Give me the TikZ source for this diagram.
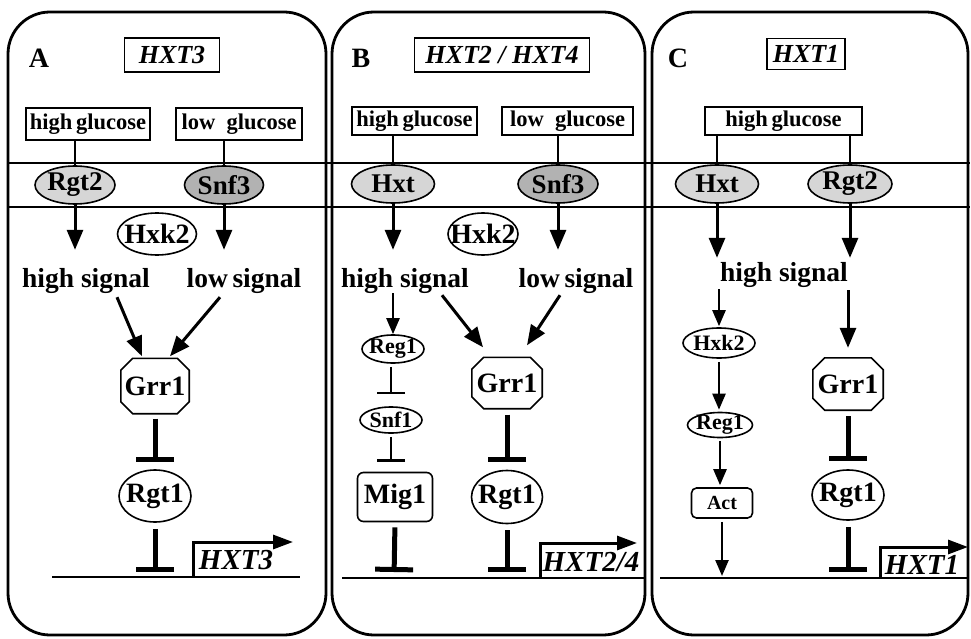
\documentclass[tikz,border=0pt]{standalone}
\usepackage{fontspec}
\setmainfont{Liberation Serif}
\usetikzlibrary{arrows.meta,shapes.geometric,calc}
\newcommand\fsz[1]{\fontsize{#1}{#1}\selectfont}
\newcommand\octdraw[1]{\draw[line width=1.6pt] ([xshift=12pt]#1.north west) -- ([xshift=-12pt]#1.north east) -- ([yshift=-12pt]#1.north east) -- ([yshift=12pt]#1.south east) -- ([xshift=-12pt]#1.south east) -- ([xshift=12pt]#1.south west) -- ([yshift=12pt]#1.south west) -- ([yshift=-12pt]#1.north west) -- cycle;}
\begin{document}
\begin{tikzpicture}[x=1pt,y=-1pt,
 panel/.style={draw, line width=2.8pt, rounded corners=42pt},
 lab/.style={font=\fsz{28}\bfseries, inner sep=0},
 genebox/.style={draw, line width=1.5pt, font=\fsz{26}\bfseries\itshape, inner sep=0, minimum height=34pt},
 gluc/.style={draw, line width=1.5pt, font=\fsz{22.5}\bfseries, inner sep=0, minimum height=30pt},
 recep/.style={ellipse, draw, line width=1.6pt, minimum height=38pt, inner xsep=-12pt, inner ysep=-8pt, font=\fsz{27}\bfseries},
 lite/.style={fill=gray!32},
 dark/.style={fill=gray!60},
 oval/.style={ellipse, draw, line width=1.6pt, inner xsep=-12pt, inner ysep=-8pt, font=\fsz{28}\bfseries},
 small/.style={ellipse, draw, line width=1.6pt, inner xsep=-10pt, inner ysep=-6pt, font=\fsz{22}\bfseries},
 signal/.style={font=\fsz{27.5}\bfseries, inner sep=0, anchor=base, text height=19pt, text depth=6pt},
 genetext/.style={font=\fsz{29}\bfseries\itshape, inner sep=0},
 octo/.style={inner sep=0, font=\fsz{28}\bfseries},
 big/.style={line width=3pt, -{Triangle[length=20pt,width=16pt]}},
 sm/.style={line width=2.4pt, -{Triangle[length=16pt,width=13pt]}},
 inh/.style={line width=5pt, -{Bar[width=38pt]}},
 inhs/.style={line width=2.5pt, -{Bar[width=28pt]}},
 stick/.style={line width=2.4pt},
 mem/.style={line width=2pt},
 dna/.style={line width=2.5pt},
 prom/.style={line width=3pt, -{Triangle[length=20pt,width=14pt]}},
 mig/.style={draw, line width=1.6pt, rounded corners=6pt, inner sep=0},
]
\useasboundingbox (0,0) rectangle (971,639);
% panels
\draw[panel] (8,12) rectangle (326,635);
\draw[panel] (332,12) rectangle (645,635);
\draw[panel] (652,12) rectangle (968,635);
% membrane
\draw[mem] (8,163) -- (970,163);
\draw[mem] (8,207) -- (970,207);
% DNA
\draw[dna] (52,577) -- (300,577);
\draw[dna] (342,578) -- (645,578);
\draw[dna] (660,578) -- (968,578);

% ---------------- Panel A
\node[lab] (lA) at (39,58) {A};
\node[genebox, minimum width=95pt] (tA) at (172,55) {HXT3};
\node[gluc, minimum width=124pt, minimum height=32pt] (hgA) at (88,124) {high\,glucose};
\node[gluc, minimum width=126pt, minimum height=32pt] (lgA) at (239,124) {low\enspace glucose};
\node[recep, lite, minimum width=80pt] (rA) at (75,185) {Rgt2};
\node[recep, dark, minimum width=79pt] (sA) at (224,185) {Snf3};
\node[oval, minimum width=79pt, minimum height=42pt] (kA) at (157,234) {Hxk2};
\node[signal] (hsA) at (86,287) {high signal};
\node[signal] (lsA) at (244,287) {low\,signal};
\node[octo, minimum width=68pt, minimum height=55pt] (gA) at (155,386) {Grr1};
\octdraw{gA}
\node[oval, minimum width=72pt, minimum height=52pt] (tA1) at (155,496) {Rgt1};
\coordinate (dA) at (155,577);
\coordinate (pA) at (193,577);
\coordinate (pA2) at (193,542);
\coordinate (eA) at (293,542);
\node[genetext] (xA) at (236,560) {HXT3};

\draw[stick] (hgA.south -| rA) -- (rA.north);
\draw[stick] (lgA.south -| sA) -- (sA.north);
\draw[big, shorten >=18pt] (rA.south) -- (rA.south |- hsA.north);
\draw[big, shorten >=18pt] (sA.south) -- (sA.south |- lsA.north);
\draw[big] ($(hsA.south)+(31,4)$) -- ($(gA.north)+(-13,-2)$);
\draw[big] ($(lsA.south)+(-24,4)$) -- ($(gA.north)+(15,-2)$);
\draw[inh, shorten <=5pt, shorten >=7pt] (gA.south) -- (tA1.north);
\draw[inh, shorten <=6pt, shorten >=5pt] (tA1.south) -- (dA);
\draw[prom] (pA) -- (pA2) -- (eA);

% ---------------- Panel B
\node[lab] (lB) at (361,58) {B};
\node[genebox, minimum width=175pt] (tB) at (502,55) {HXT2 / HXT4};
\node[gluc, minimum width=125pt, minimum height=28pt] (hgB) at (414.5,121) {high\,glucose};
\node[gluc, minimum width=131pt, minimum height=28pt] (lgB) at (567.5,121) {low\enspace glucose};
\node[recep, lite, minimum width=83pt] (rB) at (393,184) {Hxt};
\node[recep, dark, minimum width=80pt] (sB) at (558,184) {Snf3};
\node[oval, minimum width=70pt, minimum height=42pt] (kB) at (483,234) {Hxk2};
\node[signal] (hsB) at (405,287) {high signal};
\node[signal] (lsB) at (576,287) {low\,signal};
\node[small, minimum width=62pt, minimum height=28pt] (reB) at (393,349) {Reg1};
\node[small, minimum width=62pt, minimum height=26pt] (snB) at (391,420) {Snf1};
\node[mig, minimum width=75pt, minimum height=49pt, font=\fsz{28}\bfseries] (mB) at (395,497) {Mig1};
\node[octo, minimum width=70pt, minimum height=51pt] (gB) at (507,383) {Grr1};
\octdraw{gB}
\node[oval, minimum width=71pt, minimum height=53pt] (tB1) at (507,497) {Rgt1};
\coordinate (dB1) at (394,578);
\coordinate (dB2) at (507,578);
\coordinate (pB) at (540,578);
\coordinate (pB2) at (540,543);
\coordinate (eB) at (637,543);
\node[genetext] (xB) at (591,562) {HXT2/4};

\draw[stick] (hgB.south -| rB) -- (rB.north);
\draw[stick] (lgB.south -| sB) -- (sB.north);
\draw[big, shorten >=18pt] (rB.south) -- (rB.south |- hsB.north);
\draw[big, shorten >=18pt] (sB.south) -- (sB.south |- lsB.north);
\draw[sm] ($(hsB.south)+(-12,0)$) -- (reB.north);
\draw[big] ($(hsB.south)+(37,2)$) -- ($(gB.north)+(-24,-10)$);
\draw[big] ($(lsB.south)+(-16,2)$) -- ($(gB.north)+(20,-12)$);
\draw[inhs, shorten <=3pt, shorten >=12pt] (snB |- reB.south) -- (snB.north);
\draw[inhs, shorten <=3pt, shorten >=10pt] (snB.south) -- (snB.south |- mB.north);
\draw[inh, shorten <=5pt, shorten >=6pt] (mB.south) -- (dB1);
\draw[inh, shorten <=6pt, shorten >=8pt] (gB.south) -- (tB1.north);
\draw[inh, shorten <=6pt, shorten >=6pt] (tB1.south) -- (dB2);
\draw[prom] (pB) -- (pB2) -- (eB);

% ---------------- Panel C
\node[lab] (lC) at (678,58) {C};
\node[genebox, minimum width=78pt, minimum height=31pt] (tC) at (806,54) {HXT1};
\node[gluc, minimum width=157pt, minimum height=28pt] (hgC) at (783.5,121) {high\,glucose};
\node[recep, lite, minimum width=83pt] (rC) at (717,184) {Hxt};
\node[recep, lite, minimum width=84pt] (sC) at (850,184) {Rgt2};
\node[signal] (hsC) at (784,281) {high signal};
\node[small, minimum width=72pt, minimum height=30pt] (kC) at (719,343) {Hxk2};
\node[small, minimum width=65pt, minimum height=25pt] (reC) at (720,425) {Reg1};
\node[mig, rounded corners=5pt, minimum width=61pt, minimum height=30pt, font=\fsz{20}\bfseries] (aC) at (722,503) {Act};
\node[octo, minimum width=70pt, minimum height=52pt] (gC) at (848,384) {Grr1};
\octdraw{gC}
\node[oval, minimum width=72pt, minimum height=50pt] (tC1) at (848,495) {Rgt1};
\coordinate (dC1) at (722,576);
\coordinate (dC2) at (848,578);
\coordinate (pC) at (880,578);
\coordinate (pC2) at (880,547);
\coordinate (eC) at (968,547);
\node[genetext] (xC) at (922,565) {HXT1};

\draw[stick] (hgC.south -| rC) -- (rC.north);
\draw[stick] (hgC.south -| sC) -- (sC.north);
\draw[big, shorten >=4pt] (rC.south) -- (rC.south |- hsC.north);
\draw[big, shorten >=4pt] (sC.south) -- (sC.south |- hsC.north);
\draw[sm, shorten <=2pt, shorten >=1pt] (kC |- hsC.south) -- (kC.north);
\draw[big, shorten <=3pt, shorten >=10pt] (gC |- hsC.south) -- (gC.north);
\draw[sm, shorten <=3pt, shorten >=2pt] (kC.south) -- (kC.south |- reC.north);
\draw[sm, shorten <=3pt, shorten >=2pt] (reC.south) -- (reC.south |- aC.north);
\draw[sm, shorten <=3pt] (aC.south) -- (dC1);
\draw[inh, shorten <=6pt, shorten >=8pt] (gC.south) -- (tC1.north);
\draw[inh, shorten <=6pt, shorten >=6pt] (tC1.south) -- (dC2);
\draw[prom] (pC) -- (pC2) -- (eC);
\end{tikzpicture}
\end{document}
